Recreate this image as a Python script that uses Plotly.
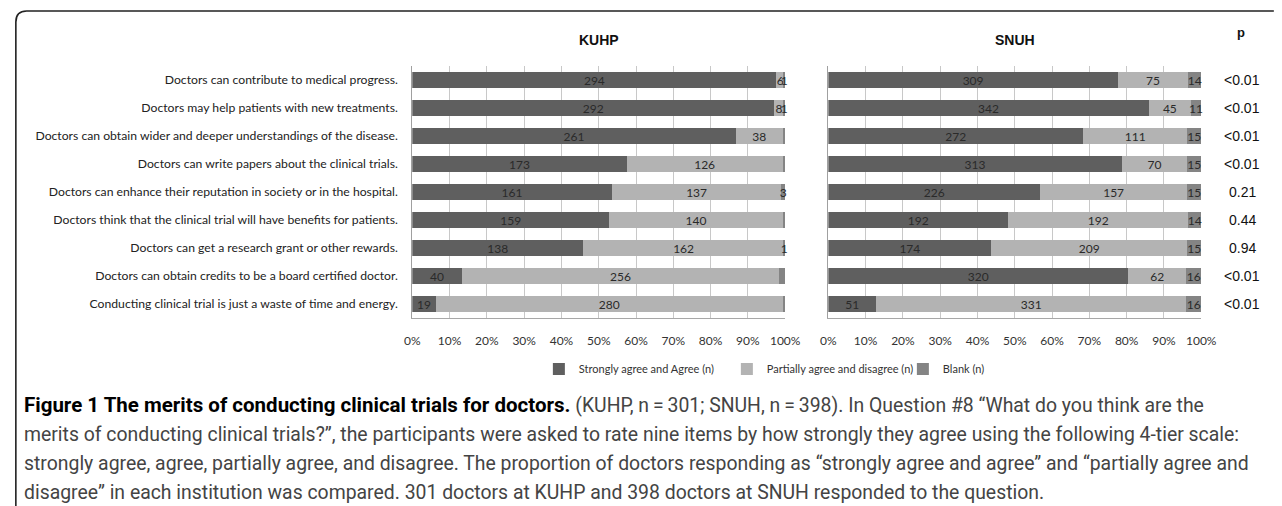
import plotly.graph_objects as go

# ---------------- data ----------------
categories = [
    "Doctors can contribute to medical progress.",
    "Doctors may help patients with new treatments.",
    "Doctors can obtain wider and deeper understandings of the disease.",
    "Doctors can write papers about the clinical trials.",
    "Doctors can enhance their reputation in society or in the hospital.",
    "Doctors think that the clinical trial will have benefits for patients.",
    "Doctors can get a research grant or other rewards.",
    "Doctors can obtain credits to be a board certified doctor.",
    "Conducting clinical trial is just a waste of time and energy.",
]
kuhp_agree = [294, 292, 261, 173, 161, 159, 138, 40, 19]
kuhp_partial = [6, 8, 38, 126, 137, 140, 162, 256, 280]
kuhp_blank = [1, 1, 2, 2, 3, 2, 1, 5, 2]
snuh_agree = [309, 342, 272, 313, 226, 192, 174, 320, 51]
snuh_partial = [75, 45, 111, 70, 157, 192, 209, 62, 331]
snuh_blank = [14, 11, 15, 15, 15, 14, 15, 16, 16]
p_values = ["<0.01", "<0.01", "<0.01", "<0.01", "0.21", "0.44", "0.94", "<0.01", "<0.01"]
series_names = ["Strongly agree and Agree (n)", "Partially agree and disagree (n)", "Blank (n)"]
panel_titles = ["KUHP", "SNUH"]
tick_vals = [0, 10, 20, 30, 40, 50, 60, 70, 80, 90, 100]
tick_text = ["0%", "10%", "20%", "30%", "40%", "50%", "60%", "70%", "80%", "90%", "100%"]
caption_bold = "Figure 1 The merits of conducting clinical trials for doctors."
caption_lines = [
    " (KUHP, n\u2009=\u2009301; SNUH, n\u2009=\u2009398). In Question #8 \u201cWhat do you think are the",
    "merits of conducting clinical trials?\u201d, the participants were asked to rate nine items by how strongly they agree using the following 4-tier scale:",
    "strongly agree, agree, partially agree, and disagree. The proportion of doctors responding as \u201cstrongly agree and agree\u201d and \u201cpartially agree and",
    "disagree\u201d in each institution was compared. 301 doctors at KUHP and 398 doctors at SNUH responded to the question.",
]

# ---------------- styling ----------------
W, H = 1282, 506
def px(x):
    return x / W
def py(y):
    return 1 - y / H

colors = ["#5f5f5f", "#b3b3b3", "#848484"]
label_font = "Lato, Calibri, sans-serif"
caption_font = "Roboto, sans-serif"
legend_widths = [143, 131, None]

fig = go.Figure()
panels = [
    ("x", "y", [kuhp_agree, kuhp_partial, kuhp_blank], True),
    ("x2", "y2", [snuh_agree, snuh_partial, snuh_blank], False),
]
for xa, ya, series, show in panels:
    for name, vals, col, lw in zip(series_names, series, colors, legend_widths):
        fig.add_trace(go.Bar(
            y=categories, x=vals, orientation="h", name=name,
            xaxis=xa, yaxis=ya, marker=dict(color=col, line=dict(width=0)),
            text=[str(v) for v in vals], textposition="inside",
            insidetextanchor="middle", textangle=0, constraintext="none",
            textfont=dict(family=label_font, size=12, color="#2a2a2a"),
            cliponaxis=False, showlegend=show, hoverinfo="skip",
            legendwidth=lw,
        ))

axis_common = dict(
    range=[0, 100], tickvals=tick_vals, ticktext=tick_text,
    showgrid=True, gridcolor="#c8c8c8", gridwidth=1,
    showline=True, linecolor="#a8a8a8", linewidth=1, zeroline=False,
    ticks="", tickfont=dict(family=label_font, size=12, color="#333333"),
    ticklabelstandoff=12, fixedrange=True,
)
yaxis_common = dict(
    type="category", categoryarray=categories, autorange="reversed",
    domain=[py(318), py(66)], showline=True, linecolor="#a0a0a0", linewidth=1,
    ticks="", showgrid=False, fixedrange=True,
)

fig.update_layout(
    width=W, height=H, margin=dict(l=0, r=0, t=0, b=0),
    paper_bgcolor="white", plot_bgcolor="white",
    barmode="stack", barnorm="percent", bargap=0.43,
    uniformtext=dict(mode="show", minsize=12),
    xaxis=dict(domain=[px(412), px(792)], anchor="y", **axis_common),
    xaxis2=dict(domain=[px(836), px(1216)], anchor="y2", **axis_common),
    yaxis=dict(anchor="x", showticklabels=True, ticklabelstandoff=11,
               tickfont=dict(family=label_font, size=12.2, color="#222222"), **yaxis_common),
    yaxis2=dict(anchor="x2", showticklabels=False, **yaxis_common),
    legend=dict(orientation="h", x=px(541), xanchor="left", y=py(369), yanchor="middle",
                font=dict(family=label_font, size=11, color="#333333"),
                bgcolor="rgba(0,0,0,0)", itemwidth=30, traceorder="normal"),
    showlegend=True,
)

annotations = []
for title, dom in zip(panel_titles, [(412, 792), (836, 1216)]):
    annotations.append(dict(
        text="<b>" + title + "</b>", x=px((dom[0] + dom[1]) / 2), y=py(40),
        xref="paper", yref="paper", showarrow=False, xanchor="center", yanchor="middle",
        font=dict(family="Liberation Sans, Arial", size=14, color="#111111")))
annotations.append(dict(
    text="<b>p</b>", x=px(1257), y=py(33), xref="paper", yref="paper", showarrow=False,
    xanchor="center", yanchor="middle",
    font=dict(family="Liberation Sans, Arial", size=13, color="#111111")))
for cat, p in zip(categories, p_values):
    annotations.append(dict(
        text=p, x=px(1258), y=cat, xref="paper", yref="y2", showarrow=False,
        xanchor="center", yanchor="middle",
        font=dict(family="Liberation Sans, Arial", size=14, color="#111111")))
for i, line in enumerate(caption_lines):
    if i == 0:
        txt = ("<span style='font-size:20.5px;color:#000000'><b>" + caption_bold + "</b></span>" + line)
    else:
        txt = line
    annotations.append(dict(
        text=txt, x=px(14), y=py(405 + 29 * i), xref="paper", yref="paper",
        showarrow=False, xanchor="left", yanchor="middle", align="left",
        font=dict(family=caption_font, size=19.4, color="#444444")))
fig.update_layout(annotations=annotations)

# decorative frame (rounded top-left corner)
fig.add_shape(
    type="path", xref="paper", yref="paper",
    path=f"M {px(1290)},{py(11)} L {px(19)},{py(11)} Q {px(8)},{py(11)} {px(8)},{py(22)} L {px(8)},{py(510)}",
    line=dict(color="#222222", width=1.6),
)

fig.write_html(
    "out.html",
    config={"displayModeBar": False},
    post_script="document.body.style.margin='0';document.body.style.overflow='hidden';",
)
